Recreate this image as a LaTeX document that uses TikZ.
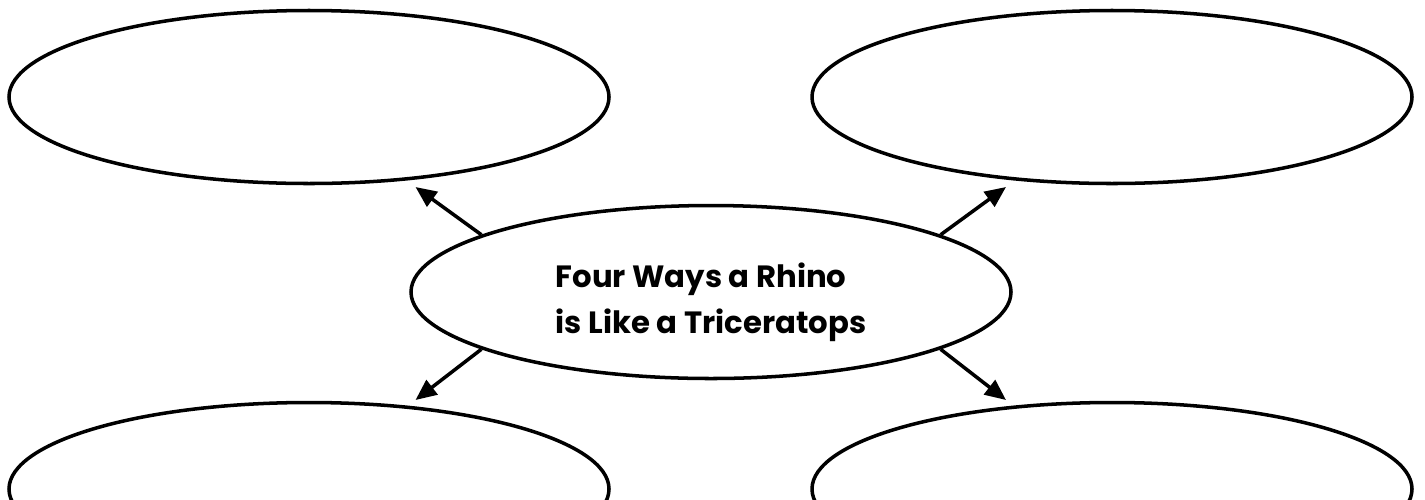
\documentclass[tikz,border=0pt]{standalone}
\usepackage{fontspec}
\setmainfont{Poppins}
\usepackage{tikz}
\usetikzlibrary{arrows.meta,shapes.geometric,positioning}
\tikzset{
  emptyOval/.style={
    ellipse, draw=black, line width=2pt, fill=white,
    minimum width=12.0cm, minimum height=3.46cm, inner sep=0pt
  },
  titleOval/.style={
    emptyOval, align=left,
    font=\fontsize{17.5}{26.6}\selectfont\bfseries
  },
  pointArrow/.style={-{Triangle[length=0.42cm,width=0.36cm]}, line width=2pt, color=black}
}
\begin{document}
\begin{tikzpicture}
        \useasboundingbox (0,0) rectangle (28.5,-9.98);
        % the title in the middle
        \node[titleOval] (center) at (14.22,-5.84)
          {\rule{0pt}{0.9cm}Four Ways a Rhino\\is Like a Triceratops};
        % four empty ovals to fill in
        \node[emptyOval] (topLeft) at (6.18,-1.94) {};
        \node[emptyOval] (topRight) at (22.24,-1.94) {};
        \node[emptyOval] (bottomLeft) at (6.18,-9.78) {};
        \node[emptyOval] (bottomRight) at (22.24,-9.78) {};
        % arrow tips stop short of the ovals
        \coordinate (tipTopLeft) at (8.31,-3.74);
        \coordinate (tipTopRight) at (20.12,-3.74);
        \coordinate (tipBottomLeft) at (8.31,-8.0);
        \coordinate (tipBottomRight) at (20.12,-8.0);
        \draw[pointArrow] (center.166) -- (tipTopLeft);
        \draw[pointArrow] (center.14) -- (tipTopRight);
        \draw[pointArrow] (center.194) -- (tipBottomLeft);
        \draw[pointArrow] (center.346) -- (tipBottomRight);
\end{tikzpicture}
\end{document}
